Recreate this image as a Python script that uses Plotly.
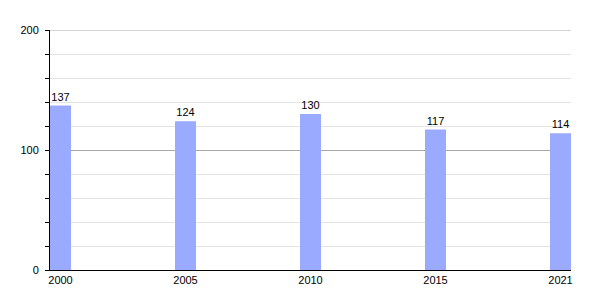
import plotly.graph_objects as go

years = ["2000", "2005", "2010", "2015", "2021"]
values = [137, 124, 130, 117, 114]
y_max = 200

xpos = list(range(len(years)))

fig = go.Figure(go.Bar(
    x=xpos, y=values, width=0.168,
    marker=dict(color="#99aaff", line=dict(width=0)),
    text=[str(v) for v in values], textposition="outside",
    textfont=dict(family="Liberation Sans, Arial, sans-serif", size=11, color="#000"),
    cliponaxis=False,
))

# top gridline (plotly clips grid lines at the very edge of the range)
fig.add_shape(type="line", xref="paper", yref="y", x0=0, x1=1, y0=y_max, y1=y_max,
              line=dict(color="#a8a8a8", width=1), layer="below")

fig.update_layout(
    width=600, height=300,
    margin=dict(l=50, r=29, t=30, b=30),
    paper_bgcolor="white", plot_bgcolor="white",
    showlegend=False,
    font=dict(family="Liberation Sans, Arial, sans-serif", size=11, color="#000"),
    xaxis=dict(
        range=[-0.084, 4.084], tickvals=xpos, ticktext=years,
        showgrid=False, zeroline=False, showline=True, linecolor="#000", linewidth=1,
        ticks="", tickfont=dict(size=11), fixedrange=True,
    ),
    yaxis=dict(
        range=[0, y_max], tickvals=[0, 100, 200], showgrid=True, gridcolor="#a8a8a8", gridwidth=1,
        zeroline=False, showline=True, linecolor="#000", linewidth=1,
        ticks="outside", ticklen=4, tickcolor="#000", tickfont=dict(size=11),
        ticklabelstandoff=4,
        minor=dict(dtick=20, showgrid=True, gridcolor="#e4e4e4", ticks="outside", ticklen=4, tickcolor="#000"),
    ),
)

fig.write_html("out.html")
